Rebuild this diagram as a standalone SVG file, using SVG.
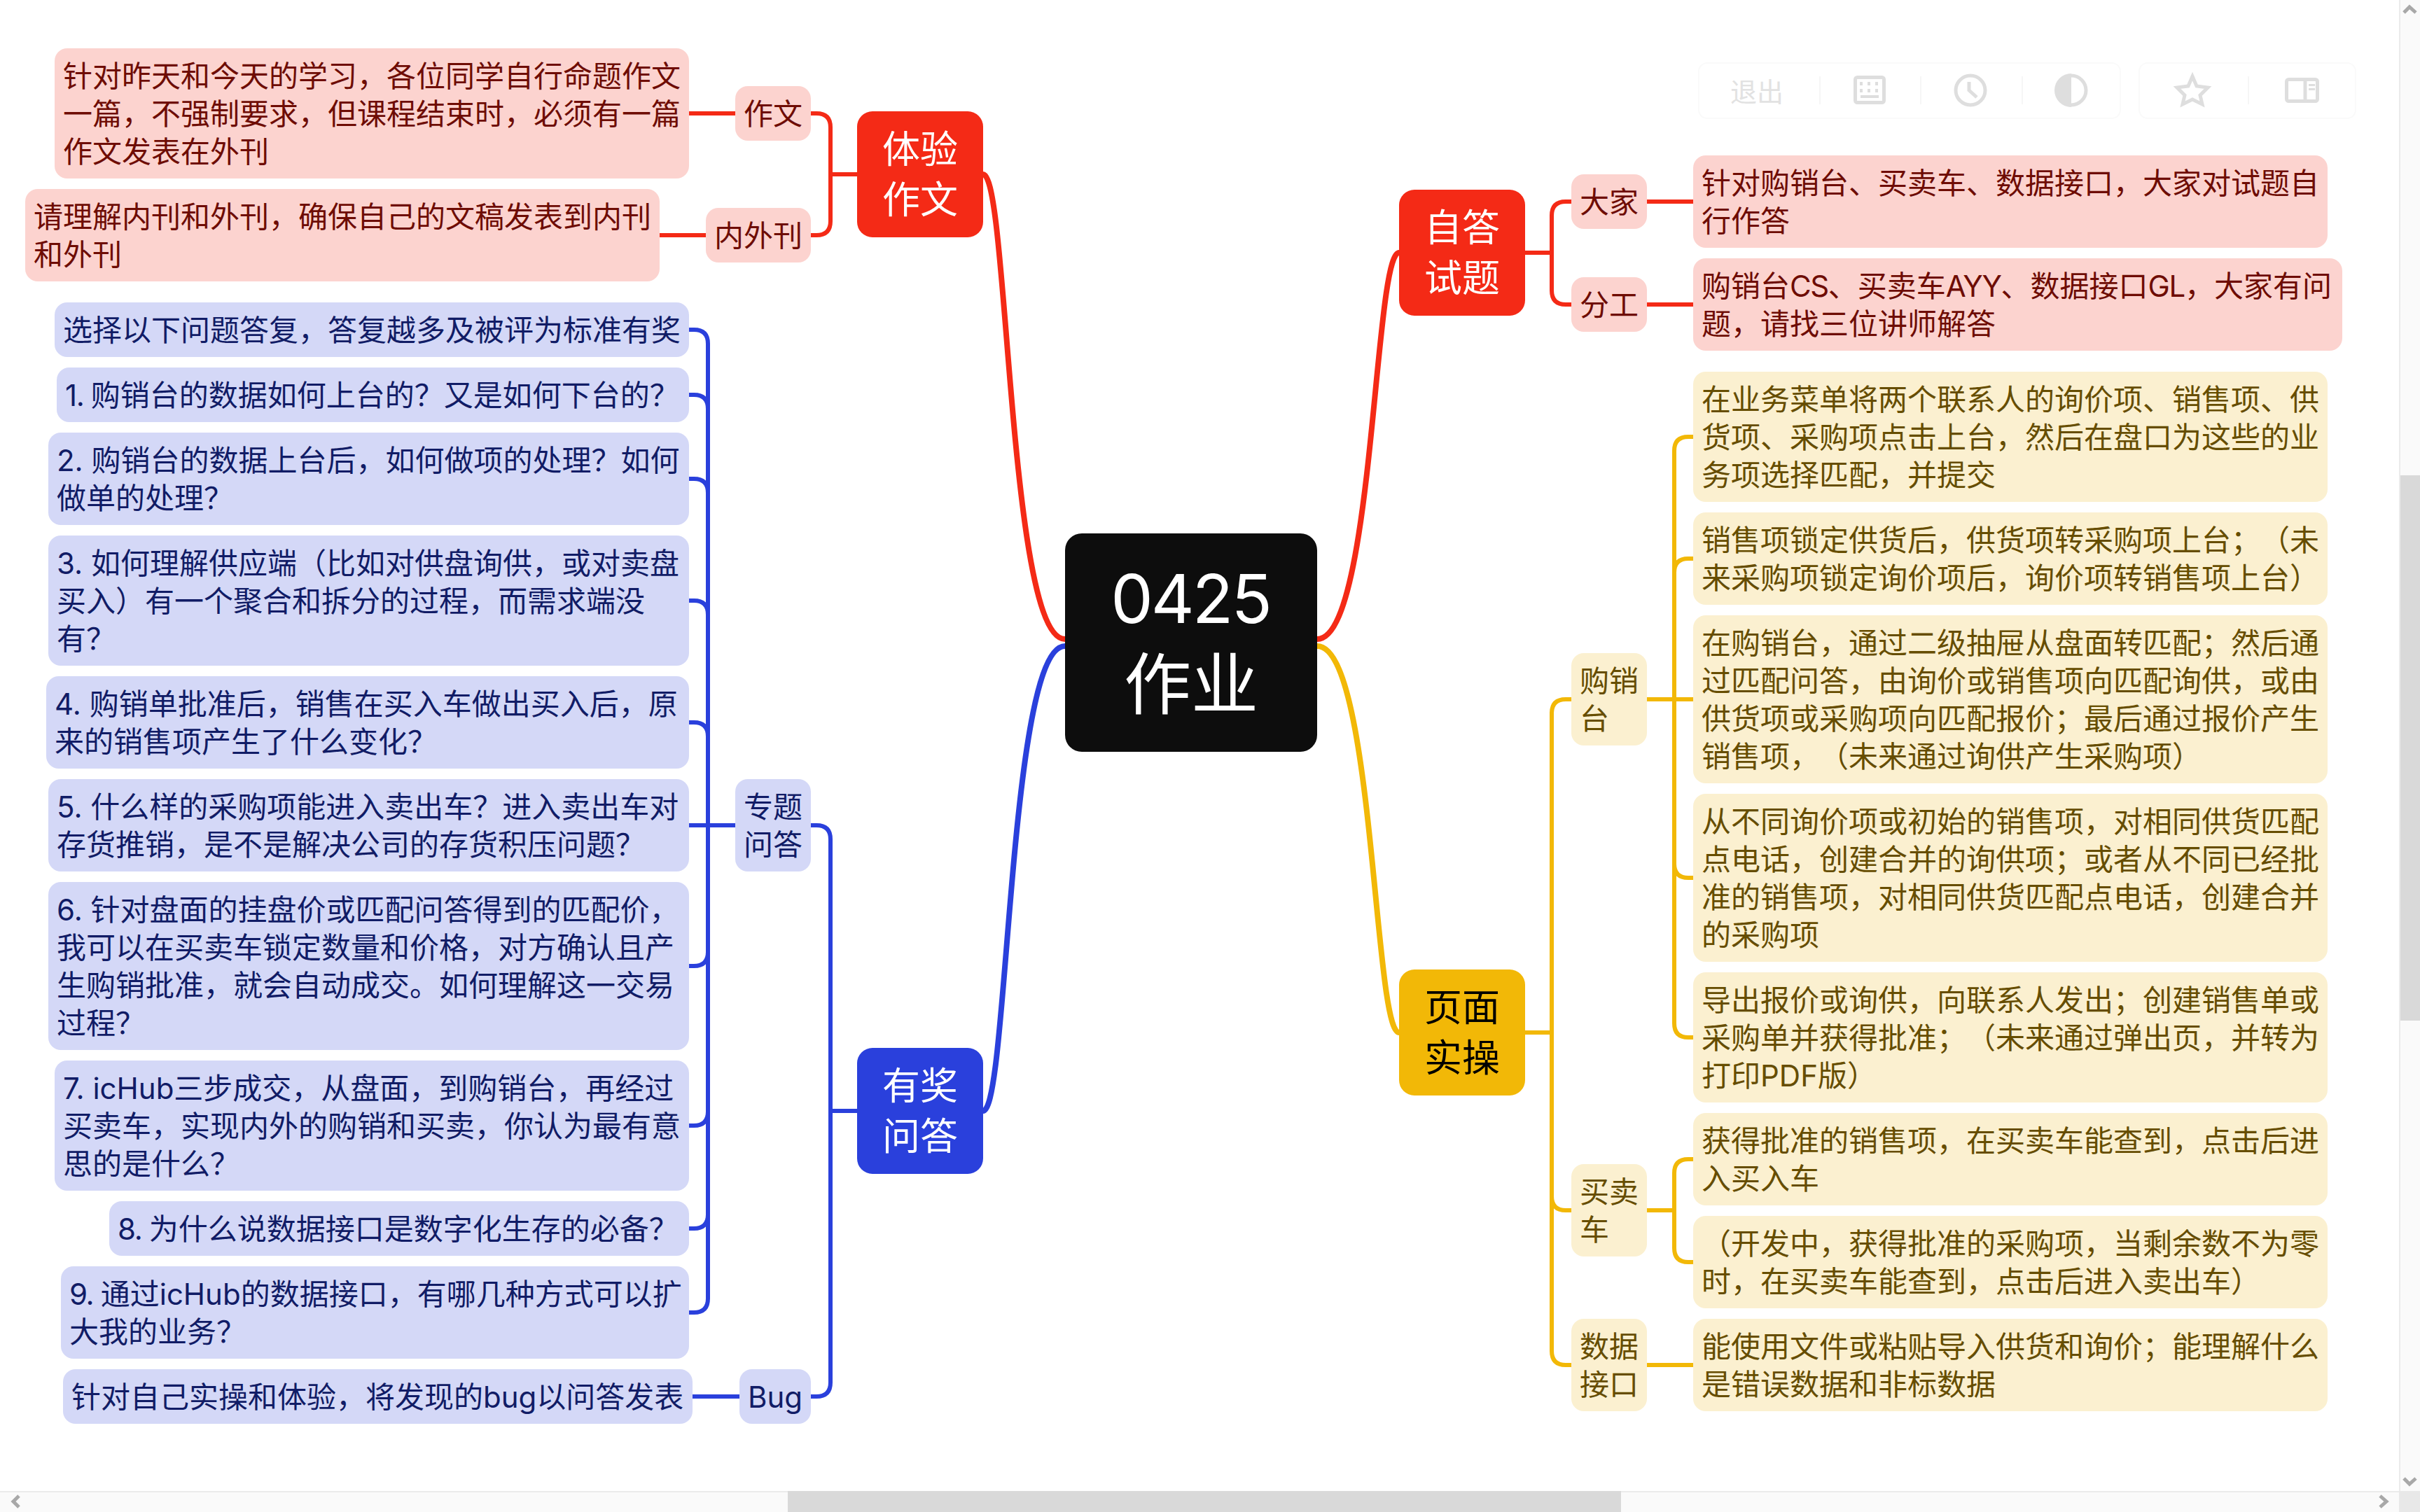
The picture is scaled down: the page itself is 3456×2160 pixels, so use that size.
<svg xmlns="http://www.w3.org/2000/svg" width="3456" height="2160" viewBox="0 0 3456 2160">
<defs><style>
text{font-family:Inter,"Noto Sans CJK SC","Noto Sans",sans-serif;text-spacing-trim:space-all;}
.t{font-size:42px}
.l1{font-size:54px;text-anchor:middle}
.r{fill:#fcd3cf}.rt{fill:#6e0c04}
.b{fill:#d4d8f7}.bt{fill:#111c66}
.y{fill:#fbf0d0}.yt{fill:#664d00}
.c{fill:none;stroke-width:6}
.cr{stroke:#f42a16}.cb{stroke:#2a40dc}.cy{stroke:#f2b807}
.m{fill:none;stroke-width:8;stroke-linecap:butt}
.tb{fill:#fff;stroke:#fafafa;stroke-width:2}
.sep{stroke:#f6f6f6;stroke-width:2}
.ic{fill:none;stroke:#dedede;stroke-width:5}
.icf{fill:#dedede}
.ar{fill:none;stroke:#a8a8a8;stroke-width:5}
.ls{letter-spacing:-1.4px}
</style></defs>
<rect width="3456" height="2160" fill="#fff"/>
<g id="connectors">
<path class="m cr" d="M1521 913C1440 913 1440 249 1404 249"/>
<path class="m cb" d="M1521 923C1440 923 1440 1587 1404 1587"/>
<path class="m cr" d="M1881 913C1962 913 1962 361 1998 361"/>
<path class="m cy" d="M1881 923C1962 923 1962 1475 1998 1475"/>
<path class="c cr" d="M1224 249H1186M1158 162H1166Q1186 162 1186 182V316Q1186 336 1166 336H1158"/>
<path class="c cr" d="M1050 162H984M1008 336H942"/>
<path class="c cr" d="M2178 361H2216M2244 288H2236Q2216 288 2216 308V415Q2216 435 2236 435H2244"/>
<path class="c cr" d="M2352 288H2418M2352 435H2418"/>
<path class="c cb" d="M1224 1587H1186M1158 1179H1166Q1186 1179 1186 1199V1975Q1186 1995 1166 1995H1158"/>
<path class="c cb" d="M1050 1179H984M1056 1995H989"/>
<path class="c cb" d="M984 471H991Q1011 471 1011 491V1855Q1011 1875 991 1875H984M984 564H991Q1011 564 1011 584M984 684H991Q1011 684 1011 704M984 858H991Q1011 858 1011 878M984 1032H991Q1011 1032 1011 1052M984 1380H991Q1011 1380 1011 1360M984 1608H991Q1011 1608 1011 1588M984 1755H991Q1011 1755 1011 1735"/>
<path class="c cy" d="M2178 1475H2216M2244 999H2236Q2216 999 2216 1019V1930Q2216 1950 2236 1950H2244M2244 1729H2236Q2216 1729 2216 1709"/>
<path class="c cy" d="M2352 999H2418M2352 1729H2391M2352 1950H2418"/>
<path class="c cy" d="M2418 624H2411Q2391 624 2391 644V1462Q2391 1482 2411 1482H2418M2418 798H2411Q2391 798 2391 818M2418 1254H2411Q2391 1254 2391 1234"/>
<path class="c cy" d="M2418 1656H2411Q2391 1656 2391 1676V1783Q2391 1803 2411 1803H2418"/>
</g>

<g id="root"><rect x="1521" y="762" width="360" height="312" rx="24" fill="#0d0d0d"/>
<text y="890" font-size="96" text-anchor="middle" fill="#fff"><tspan x="1700" letter-spacing="-3">0425</tspan><tspan x="1701" dy="122">作业</tspan></text></g>

<g id="n-tiyan"><rect x="1224" y="159" width="180" height="180" rx="22" fill="#f42a16"/><text class="l1" fill="#fff" y="233"><tspan x="1314">体验</tspan><tspan x="1314" dy="72">作文</tspan></text></g>
<g id="n-zuowen"><rect class="r" x="1050" y="123" width="108" height="78" rx="18"/><text class="t rt" x="1062" y="178">作文</text></g>
<g id="n-neiwai"><rect class="r" x="1008" y="297" width="150" height="78" rx="18"/><text class="t rt" x="1020" y="352">内外刊</text></g>
<g id="n-zuowen-leaf"><rect class="r" x="78" y="69" width="906" height="186" rx="18"/><text class="t rt" y="124"><tspan x="90">针对昨天和今天的学习，各位同学自行命题作文</tspan><tspan x="90" dy="54">一篇，不强制要求，但课程结束时，必须有一篇</tspan><tspan x="90" dy="54">作文发表在外刊</tspan></text></g>
<g id="n-neiwai-leaf"><rect class="r" x="36" y="270" width="906" height="132" rx="18"/><text class="t rt" y="325"><tspan x="48">请理解内刊和外刊，确保自己的文稿发表到内刊</tspan><tspan x="48" dy="54">和外刊</tspan></text></g>

<g id="n-youjiang"><rect x="1224" y="1497" width="180" height="180" rx="22" fill="#2a40dc"/><text class="l1" fill="#fff" y="1571"><tspan x="1314">有奖</tspan><tspan x="1314" dy="72">问答</tspan></text></g>
<g id="n-zhuanti"><rect class="b" x="1050" y="1113" width="108" height="132" rx="18"/><text class="t bt" y="1168"><tspan x="1062">专题</tspan><tspan x="1062" dy="54">问答</tspan></text></g>
<g id="n-bug"><rect class="b" x="1056" y="1956" width="102" height="78" rx="18"/><text class="t bt" x="1068" y="2011">Bug</text></g>
<g id="q0"><rect class="b" x="78" y="432" width="906" height="78" rx="18"/><text class="t bt" x="90" y="487">选择以下问题答复，答复越多及被评为标准有奖</text></g>
<g id="q1"><rect class="b" x="81" y="525" width="903" height="78" rx="18"/><text class="t bt" x="93" y="580"><tspan class="ls">1. </tspan>购销台的数据如何上台的？又是如何下台的？</text></g>
<g id="q2"><rect class="b" x="69" y="618" width="915" height="132" rx="18"/><text class="t bt" y="673"><tspan x="81">2. 购销台的数据上台后，如何做项的处理？如何</tspan><tspan x="81" dy="54">做单的处理？</tspan></text></g>
<g id="q3"><rect class="b" x="69" y="765" width="915" height="186" rx="18"/><text class="t bt" y="820"><tspan x="81">3. 如何理解供应端（比如对供盘询供，或对卖盘</tspan><tspan x="81" dy="54">买入）有一个聚合和拆分的过程，而需求端没</tspan><tspan x="81" dy="54">有？</tspan></text></g>
<g id="q4"><rect class="b" x="66" y="966" width="918" height="132" rx="18"/><text class="t bt" y="1021"><tspan x="78">4. 购销单批准后，销售在买入车做出买入后，原</tspan><tspan x="78" dy="54">来的销售项产生了什么变化？</tspan></text></g>
<g id="q5"><rect class="b" x="69" y="1113" width="915" height="132" rx="18"/><text class="t bt" y="1168"><tspan x="81">5. 什么样的采购项能进入卖出车？进入卖出车对</tspan><tspan x="81" dy="54">存货推销，是不是解决公司的存货积压问题？</tspan></text></g>
<g id="q6"><rect class="b" x="69" y="1260" width="915" height="240" rx="18"/><text class="t bt" y="1315"><tspan x="81">6. 针对盘面的挂盘价或匹配问答得到的匹配价，</tspan><tspan x="81" dy="54">我可以在买卖车锁定数量和价格，对方确认且产</tspan><tspan x="81" dy="54">生购销批准，就会自动成交。如何理解这一交易</tspan><tspan x="81" dy="54">过程？</tspan></text></g>
<g id="q7"><rect class="b" x="78" y="1515" width="906" height="186" rx="18"/><text class="t bt" y="1570"><tspan x="90">7. icHub三步成交，从盘面，到购销台，再经过</tspan><tspan x="90" dy="54">买卖车，实现内外的购销和买卖，你认为最有意</tspan><tspan x="90" dy="54">思的是什么？</tspan></text></g>
<g id="q8"><rect class="b" x="156" y="1716" width="828" height="78" rx="18"/><text class="t bt" x="168" y="1771"><tspan class="ls">8. </tspan>为什么说数据接口是数字化生存的必备？</text></g>
<g id="q9"><rect class="b" x="87" y="1809" width="897" height="132" rx="18"/><text class="t bt" y="1864"><tspan x="99" class="ls">9. </tspan>通过icHub的数据接口，有哪几种方式可以扩<tspan x="99" dy="54">大我的业务？</tspan></text></g>
<g id="q-bug"><rect class="b" x="90" y="1956" width="899" height="78" rx="18"/><text class="t bt" x="102" y="2011">针对自己实操和体验，将发现的bug以问答发表</text></g>

<g id="n-zida"><rect x="1998" y="271" width="180" height="180" rx="22" fill="#f42a16"/><text class="l1" fill="#fff" y="345"><tspan x="2088">自答</tspan><tspan x="2088" dy="72">试题</tspan></text></g>
<g id="n-dajia"><rect class="r" x="2244" y="249" width="108" height="78" rx="18"/><text class="t rt" x="2256" y="304">大家</text></g>
<g id="n-fengong"><rect class="r" x="2244" y="396" width="108" height="78" rx="18"/><text class="t rt" x="2256" y="451">分工</text></g>
<g id="a1"><rect class="r" x="2418" y="222" width="906" height="132" rx="18"/><text class="t rt" y="277"><tspan x="2430">针对购销台、买卖车、数据接口，大家对试题自</tspan><tspan x="2430" dy="54">行作答</tspan></text></g>
<g id="a2"><rect class="r" x="2418" y="369" width="927" height="132" rx="18"/><text class="t rt" y="424"><tspan x="2430">购销台<tspan class="ls">CS</tspan>、买卖车<tspan class="ls">AYY</tspan>、数据接口<tspan class="ls">GL</tspan>，大家有问</tspan><tspan x="2430" dy="54">题，请找三位讲师解答</tspan></text></g>

<g id="n-yemian"><rect x="1998" y="1385" width="180" height="180" rx="22" fill="#f2b807"/><text class="l1" fill="#000" y="1459"><tspan x="2088">页面</tspan><tspan x="2088" dy="72">实操</tspan></text></g>
<g id="n-gouxiao"><rect class="y" x="2244" y="933" width="108" height="132" rx="18"/><text class="t yt" y="988"><tspan x="2256">购销</tspan><tspan x="2256" dy="54">台</tspan></text></g>
<g id="n-maimai"><rect class="y" x="2244" y="1663" width="108" height="132" rx="18"/><text class="t yt" y="1718"><tspan x="2256">买卖</tspan><tspan x="2256" dy="54">车</tspan></text></g>
<g id="n-shuju"><rect class="y" x="2244" y="1884" width="108" height="132" rx="18"/><text class="t yt" y="1939"><tspan x="2256">数据</tspan><tspan x="2256" dy="54">接口</tspan></text></g>
<g id="p1"><rect class="y" x="2418" y="531" width="906" height="186" rx="18"/><text class="t yt" y="586"><tspan x="2430">在业务菜单将两个联系人的询价项、销售项、供</tspan><tspan x="2430" dy="54">货项、采购项点击上台，然后在盘口为这些的业</tspan><tspan x="2430" dy="54">务项选择匹配，并提交</tspan></text></g>
<g id="p2"><rect class="y" x="2418" y="732" width="906" height="132" rx="18"/><text class="t yt" y="787"><tspan x="2430">销售项锁定供货后，供货项转采购项上台；（未</tspan><tspan x="2430" dy="54">来采购项锁定询价项后，询价项转销售项上台）</tspan></text></g>
<g id="p3"><rect class="y" x="2418" y="879" width="906" height="240" rx="18"/><text class="t yt" y="934"><tspan x="2430">在购销台，通过二级抽屉从盘面转匹配；然后通</tspan><tspan x="2430" dy="54">过匹配问答，由询价或销售项向匹配询供，或由</tspan><tspan x="2430" dy="54">供货项或采购项向匹配报价；最后通过报价产生</tspan><tspan x="2430" dy="54">销售项，（未来通过询供产生采购项）</tspan></text></g>
<g id="p4"><rect class="y" x="2418" y="1134" width="906" height="240" rx="18"/><text class="t yt" y="1189"><tspan x="2430">从不同询价项或初始的销售项，对相同供货匹配</tspan><tspan x="2430" dy="54">点电话，创建合并的询供项；或者从不同已经批</tspan><tspan x="2430" dy="54">准的销售项，对相同供货匹配点电话，创建合并</tspan><tspan x="2430" dy="54">的采购项</tspan></text></g>
<g id="p5"><rect class="y" x="2418" y="1389" width="906" height="186" rx="18"/><text class="t yt" y="1444"><tspan x="2430">导出报价或询供，向联系人发出；创建销售单或</tspan><tspan x="2430" dy="54">采购单并获得批准；（未来通过弹出页，并转为</tspan><tspan x="2430" dy="54">打印PDF版）</tspan></text></g>
<g id="m1"><rect class="y" x="2418" y="1590" width="906" height="132" rx="18"/><text class="t yt" y="1645"><tspan x="2430">获得批准的销售项，在买卖车能查到，点击后进</tspan><tspan x="2430" dy="54">入买入车</tspan></text></g>
<g id="m2"><rect class="y" x="2418" y="1737" width="906" height="132" rx="18"/><text class="t yt" y="1792"><tspan x="2430">（开发中，获得批准的采购项，当剩余数不为零</tspan><tspan x="2430" dy="54">时，在买卖车能查到，点击后进入卖出车）</tspan></text></g>
<g id="d1"><rect class="y" x="2418" y="1884" width="906" height="132" rx="18"/><text class="t yt" y="1939"><tspan x="2430">能使用文件或粘贴导入供货和询价；能理解什么</tspan><tspan x="2430" dy="54">是错误数据和非标数据</tspan></text></g>

<g id="toolbar">
<rect class="tb" x="2426" y="90" width="602" height="79" rx="12"/>
<rect class="tb" x="3055" y="90" width="309" height="79" rx="12"/>
<path class="sep" d="M2599 109V149M2743 109V149M2888 109V149M3211 109V149"/>
<text x="2509" y="145" font-size="38" text-anchor="middle" fill="#e2e2e2">退出</text>
<rect class="ic" x="2649.500" y="110.500" width="41" height="36" rx="3"/>
<path d="M2656 117h4v5h-4zM2667 117h4v5h-4zM2678 117h4v5h-4zM2656 127h4v5h-4zM2667 127h4v5h-4zM2678 127h4v5h-4zM2657 136h26v4h-26z" class="icf"/>
<circle class="ic" cx="2814" cy="129" r="21"/>
<path class="ic" d="M2812 117V129L2823 139"/>
<circle class="ic" cx="2958" cy="129" r="21"/>
<path class="icf" d="M2958 105A24 24 0 0 0 2958 153Z"/>
<path class="ic" stroke-width="4" d="M3131 109L3137 123L3153 125L3142 136L3145 149L3131 142L3117 149L3120 136L3109 125L3125 123Z"/>
<rect class="ic" x="3265.500" y="113.500" width="44" height="31" rx="3"/>
<path class="ic" d="M3292 113V145"/>
<path class="icf" d="M3297 120h9v3h-9zM3297 126h9v3h-9z"/>
</g>

<g id="scrollbars">
<rect x="3426" y="0" width="30" height="2160" fill="#fafafa"/>
<rect x="3426" y="0" width="2" height="2160" fill="#ebebeb"/>
<rect x="0" y="2130" width="3456" height="30" fill="#fafafa"/>
<rect x="0" y="2130" width="3426" height="2" fill="#ebebeb"/>
<rect x="3428" y="679" width="28" height="779" fill="#d9d9d9"/>
<rect x="1125" y="2130" width="1190" height="30" fill="#d9d9d9"/>
<rect x="3426" y="2130" width="30" height="30" fill="#e8e8e8"/>
<path class="ar" d="M3433 18L3441 10L3450 18M3433 2112L3441 2120L3450 2112M27 2137L19 2145L27 2153M3399 2137L3408 2145L3399 2153"/>
</g>
</svg>
